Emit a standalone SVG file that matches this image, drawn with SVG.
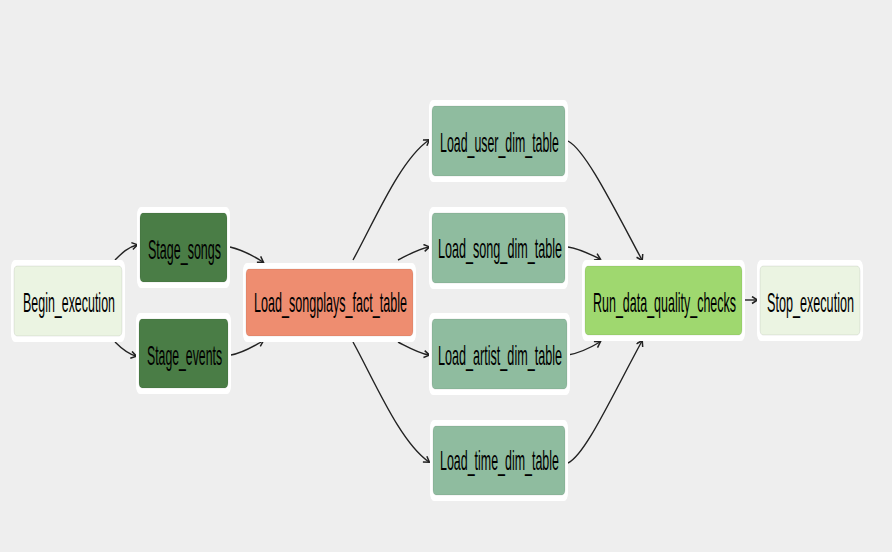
<svg xmlns="http://www.w3.org/2000/svg" width="892" height="552" viewBox="0 0 892 552">
<style>
.outer{fill:#ffffff;}
.inner{stroke:rgba(0,0,0,0.08);stroke-width:1;}
.lbl{font-family:"Liberation Sans",Arial,sans-serif;font-size:28px;fill:#000000;}
.edge{fill:none;stroke:#222222;stroke-width:1.4;marker-end:url(#arr);}
</style>
<defs>
<marker id="arr" markerUnits="userSpaceOnUse" markerWidth="10" markerHeight="10" refX="6" refY="4" orient="auto">
<path d="M1,0.5 L6.5,4 L1,7.5" fill="none" stroke="#222222" stroke-width="1.5"/>
</marker>
</defs>
<rect x="0" y="0" width="892" height="552" fill="#eeeeee"/>
<g id="connectors">
<path class="edge" d="M115,260 C122,253 128,247 137,245"/>
<path class="edge" d="M115,342 C122,349 128,354 136,356"/>
<path class="edge" d="M230,247 C243,250 252,255 263,262"/>
<path class="edge" d="M231,355 C243,353 252,347 263,341"/>
<path class="edge" d="M353,260 C375,220 400,160 429,140"/>
<path class="edge" d="M398,260 C408,255 418,249 429,247"/>
<path class="edge" d="M398,342 C408,347 418,353 429,355"/>
<path class="edge" d="M353,342 C375,382 400,442 429,462"/>
<path class="edge" d="M568,141 C585,150 610,200 642,260"/>
<path class="edge" d="M568,247 C580,249 590,254 600,259"/>
<path class="edge" d="M568,355 C580,353 590,348 600,342"/>
<path class="edge" d="M568,463 C585,455 610,400 642,341"/>
<path class="edge" d="M745,300 L757,300"/>
</g>
<g id="Begin_execution">
<rect class="outer" x="11" y="260" width="114" height="82" rx="4" ry="8"/>
<rect class="inner" x="14" y="266" width="108" height="70" rx="3" ry="5" fill="#ebf4e2"/>
<text class="lbl" transform="translate(23,312) scale(0.45,1)" textLength="204.4" lengthAdjust="spacingAndGlyphs">Begin_execution</text>
</g>
<g id="Stage_songs">
<rect class="outer" x="137" y="207" width="93" height="81" rx="4" ry="8"/>
<rect class="inner" x="140" y="213" width="87" height="69" rx="3" ry="5" fill="#4a7d46"/>
<text class="lbl" transform="translate(148,259) scale(0.45,1)" textLength="162.2" lengthAdjust="spacingAndGlyphs">Stage_songs</text>
</g>
<g id="Stage_events">
<rect class="outer" x="136" y="313" width="95" height="81" rx="4" ry="8"/>
<rect class="inner" x="139" y="319" width="89" height="69" rx="3" ry="5" fill="#4a7d46"/>
<text class="lbl" transform="translate(147,365) scale(0.45,1)" textLength="166.7" lengthAdjust="spacingAndGlyphs">Stage_events</text>
</g>
<g id="Load_songplays_fact_table">
<rect class="outer" x="243" y="263" width="173" height="79" rx="4" ry="8"/>
<rect class="inner" x="246" y="269" width="167" height="67" rx="3" ry="5" fill="#ee8d70"/>
<text class="lbl" transform="translate(254,312) scale(0.45,1)" textLength="340" lengthAdjust="spacingAndGlyphs">Load_songplays_fact_table</text>
</g>
<g id="Load_user_dim_table">
<rect class="outer" x="429" y="100" width="139" height="82" rx="4" ry="8"/>
<rect class="inner" x="432" y="106" width="133" height="70" rx="3" ry="5" fill="#8fbc9f"/>
<text class="lbl" transform="translate(440,152) scale(0.45,1)" textLength="264.4" lengthAdjust="spacingAndGlyphs">Load_user_dim_table</text>
</g>
<g id="Load_song_dim_table">
<rect class="outer" x="429" y="207" width="139" height="82" rx="4" ry="8"/>
<rect class="inner" x="432" y="213" width="133" height="70" rx="3" ry="5" fill="#8fbc9f"/>
<text class="lbl" transform="translate(438,258) scale(0.45,1)" textLength="275.6" lengthAdjust="spacingAndGlyphs">Load_song_dim_table</text>
</g>
<g id="Load_artist_dim_table">
<rect class="outer" x="429" y="313" width="141" height="82" rx="4" ry="8"/>
<rect class="inner" x="432" y="319" width="135" height="70" rx="3" ry="5" fill="#8fbc9f"/>
<text class="lbl" transform="translate(438,365) scale(0.45,1)" textLength="275.6" lengthAdjust="spacingAndGlyphs">Load_artist_dim_table</text>
</g>
<g id="Load_time_dim_table">
<rect class="outer" x="430" y="420" width="138" height="81" rx="4" ry="8"/>
<rect class="inner" x="433" y="426" width="132" height="69" rx="3" ry="5" fill="#8fbc9f"/>
<text class="lbl" transform="translate(440,470) scale(0.45,1)" textLength="264.4" lengthAdjust="spacingAndGlyphs">Load_time_dim_table</text>
</g>
<g id="Run_data_quality_checks">
<rect class="outer" x="582" y="260" width="163" height="81" rx="4" ry="8"/>
<rect class="inner" x="585" y="266" width="157" height="69" rx="3" ry="5" fill="#9fd86f"/>
<text class="lbl" transform="translate(593,312) scale(0.45,1)" textLength="317.8" lengthAdjust="spacingAndGlyphs">Run_data_quality_checks</text>
</g>
<g id="Stop_execution">
<rect class="outer" x="757" y="260" width="106" height="81" rx="4" ry="8"/>
<rect class="inner" x="760" y="266" width="100" height="69" rx="3" ry="5" fill="#ebf4e2"/>
<text class="lbl" transform="translate(767,312) scale(0.45,1)" textLength="193.3" lengthAdjust="spacingAndGlyphs">Stop_execution</text>
</g>
</svg>
